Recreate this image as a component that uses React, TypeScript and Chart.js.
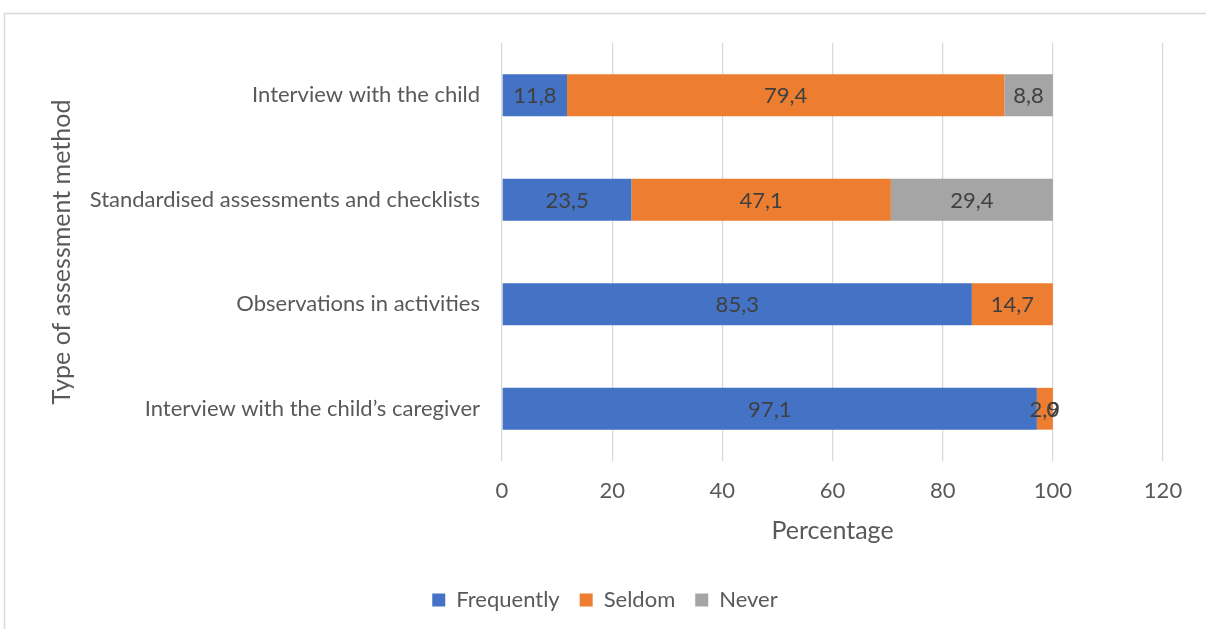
import React, { useEffect, useRef } from "react";
import { Chart, registerables } from "chart.js";

Chart.register(...registerables);

const categories = [
  "Interview with the child",
  "Standardised assessments and checklists",
  "Observations in activities",
  "Interview with the child\u2019s caregiver",
];
const frequently = [11.8, 23.5, 85.3, 97.1];
const seldom = [79.4, 47.1, 14.7, 2.9];
const never: (number | null)[] = [8.8, 29.4, null, 0];
const xTicks = [0, 20, 40, 60, 80, 100, 120];

const FONT = "Lato, 'Open Sans', sans-serif";
const TEXT = "#595959";

const fmt = (v: number) => String(v).replace(".", ",");

const labelPlugin = {
  id: "barLabels",
  afterDatasetsDraw(chart: any) {
    const ctx = chart.ctx;
    ctx.save();
    ctx.font = `22px ${FONT}`;
    ctx.fillStyle = "#404040";
    ctx.textAlign = "center";
    ctx.textBaseline = "middle";
    chart.data.datasets.forEach((ds: any, i: number) => {
      const meta = chart.getDatasetMeta(i);
      meta.data.forEach((el: any, j: number) => {
        const v = ds.data[j];
        if (v === null || v === undefined) return;
        const x = (el.x + el.base) / 2;
        ctx.fillText(fmt(v), x, el.y + 1);
      });
    });
    ctx.restore();
  },
};

const framePlugin = {
  id: "frame",
  beforeDraw(chart: any) {
    const ctx = chart.ctx;
    ctx.save();
    ctx.strokeStyle = "#d9d9d9";
    ctx.lineWidth = 1.5;
    ctx.beginPath();
    ctx.moveTo(4.5, chart.height);
    ctx.lineTo(4.5, 13.5);
    ctx.lineTo(chart.width, 13.5);
    ctx.stroke();
    ctx.restore();
  },
};

export default function App() {
  const ref = useRef<HTMLCanvasElement>(null);
  useEffect(() => {
    document.body.style.margin = "0";
    const chart = new Chart(ref.current!, {
      type: "bar",
      data: {
        labels: categories,
        datasets: [
          { label: "Frequently", data: frequently, backgroundColor: "#4472C4" },
          { label: "Seldom", data: seldom, backgroundColor: "#ED7D31" },
          { label: "Never", data: never as any, backgroundColor: "#A5A5A5" },
        ],
      },
      options: {
        indexAxis: "y",
        animation: false,
        responsive: false,
        maintainAspectRatio: false,
        datasets: {
          bar: { categoryPercentage: 1, barPercentage: 0.4, borderWidth: 0 },
        },
        layout: { padding: { left: 47, right: 43, top: 43, bottom: 8 } },
        plugins: {
          tooltip: { enabled: false },
          legend: {
            position: "bottom",
            labels: {
              font: { family: FONT, size: 22 },
              color: TEXT,
              boxWidth: 13,
              boxHeight: 13,
              padding: 20,
            },
          },
        },
        scales: {
          x: {
            stacked: true,
            min: 0,
            max: 120,
            afterBuildTicks: (s: any) => {
              s.ticks = xTicks.map((v) => ({ value: v }));
            },
            ticks: { font: { family: FONT, size: 22 }, color: TEXT, padding: 17 },
            grid: { color: "#d9d9d9", lineWidth: 1.3, drawTicks: false },
            border: { display: false },
            title: {
              display: true,
              text: "Percentage",
              font: { family: FONT, size: 25 },
              color: TEXT,
              padding: { top: 6, bottom: 23 },
            },
            afterFit: (s: any) => {
              s.height = 108;
            },
          },
          y: {
            stacked: true,
            ticks: { font: { family: FONT, size: 22 }, color: TEXT, padding: 22 },
            grid: { display: false, drawTicks: false },
            border: { display: false },
            title: {
              display: true,
              text: "Type of assessment method",
              font: { family: FONT, size: 25 },
              color: TEXT,
              padding: 0,
            },
            afterFit: (s: any) => {
              s.width = 455;
            },
          },
        },
      },
      plugins: [labelPlugin, framePlugin],
    });
    return () => chart.destroy();
  }, []);
  return <canvas ref={ref} width={1206} height={629} style={{ display: "block" }} />;
}
